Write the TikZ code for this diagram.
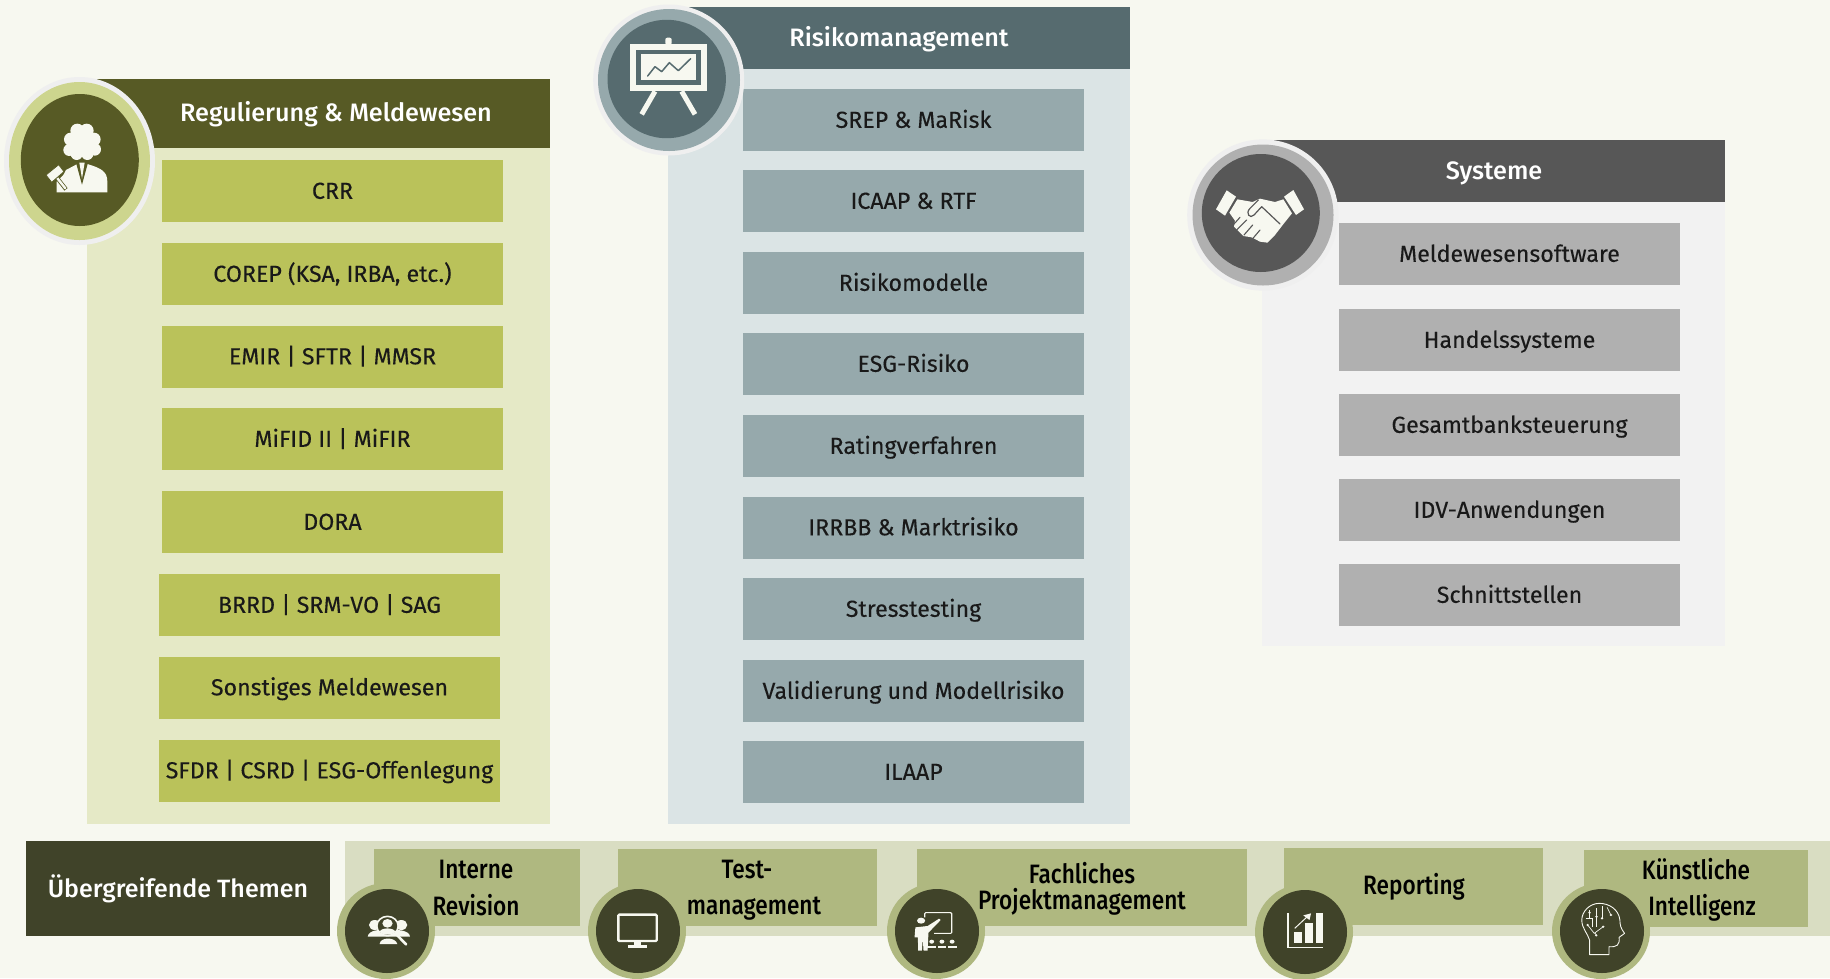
\documentclass[tikz,border=0pt]{standalone}
\usepackage{fontspec}
\setmainfont{Fira Sans}
\newfontfamily\itemfont[FakeBold=0.2]{Fira Sans}
\newfontfamily\headfont[UprightFont=* Medium]{Fira Sans}
\newfontfamily\sidefont[UprightFont=* Medium,FakeStretch=0.85]{Fira Sans}
\definecolor{pagebg}{HTML}{F7F8F0}
\definecolor{halo}{HTML}{EFEFEF}
\definecolor{regdark}{HTML}{575A25}
\definecolor{regmid}{HTML}{BAC25A}
\definecolor{regring}{HTML}{CDD58E}
\definecolor{reglight}{HTML}{E5E9C6}
\definecolor{riskdark}{HTML}{566B6F}
\definecolor{riskmid}{HTML}{96A9AC}
\definecolor{risklight}{HTML}{DBE4E5}
\definecolor{sysdark}{HTML}{575757}
\definecolor{sysmid}{HTML}{B0B0B0}
\definecolor{syslight}{HTML}{F2F2F2}
\definecolor{sidedark}{HTML}{404329}
\definecolor{sidemid}{HTML}{AFB880}
\definecolor{sidelight}{HTML}{D9DDC2}
\tikzset{
  itembox/.style={minimum width=341pt,minimum height=62pt,inner sep=0pt,text=black!90,
    font=\itemfont\fontsize{23.2}{26}\selectfont,text height=18.2pt,text depth=2.6pt},
  regbox/.style={itembox,fill=regmid},
  riskbox/.style={itembox,fill=riskmid},
  sysbox/.style={itembox,fill=sysmid},
  headtext/.style={inner sep=0pt,text=white,font=\headfont\fontsize{25.2}{30}\selectfont},
  sidebox/.style={fill=sidemid,inner sep=0pt,minimum height=77pt},
  sidetext/.style={inner sep=0pt,text=black,font=\sidefont\fontsize{26.6}{30}\selectfont},
  icon/.style={pagebg},
}
\begin{document}
\begin{tikzpicture}[x=1pt,y=-1pt]
  \clip (0,0) rectangle (1830,978);
  \fill[pagebg] (0,0) rectangle (1830,978);  %Page

  % Regulierung & Meldewesen
  \fill[reglight] (87,148) rectangle (550,824);  %Panel
  \fill[regdark] (87,79) rectangle (550,148);    %Header
  \node[headtext] (reghead) at (336,114) {Regulierung \& Meldewesen};
  \node[regbox] (crr)   at (332.5,191) {CRR};
  \node[regbox] (corep) at (332.5,274) {COREP (KSA, IRBA, etc.)};
  \node[regbox] (emir)  at (332.5,356.5) {EMIR | SFTR | MMSR};
  \node[regbox] (mifid) at (332.5,439) {MiFID II | MiFIR};
  \node[regbox] (dora)  at (332.5,522) {DORA};
  \node[regbox] (brrd)  at (329.5,605) {BRRD | SRM-VO | SAG};
  \node[regbox] (sonst) at (329.5,687.5) {Sonstiges Meldewesen};
  \node[regbox] (sfdr)  at (329.5,770.5) {SFDR | CSRD | ESG-Offenlegung};
  \fill[halo] (79.5,161) ellipse (75.5 and 84);
  \fill[regring] (79.5,161) ellipse (70.5 and 79);
  \fill[regdark] (79.8,160) ellipse (59 and 66);

  % Judge icon
  \begin{scope}[shift={(0,60)},scale=1/3]
    \fill[icon] (245,248) ellipse (42 and 40);
    \fill[icon] (232,212) circle (21);
    \fill[icon] (260,212) circle (21);
    \fill[icon] (282,238) circle (20);
    \fill[icon] (284,268) circle (19);
    \fill[icon] (262,282) circle (18);
    \fill[icon] (230,282) circle (18);
    \fill[icon] (208,270) circle (18);
    \fill[icon] (212,238) circle (20);
    \fill[icon] (170,397) -- (170,365) -- (190,345) -- (198,330) -- (232,312) -- (262,312) .. controls (305,325) and (322,335) .. (322,365) -- (322,397) -- cycle;
    \fill[regdark] (228,308) -- (264,308) -- (246,374) -- cycle;     %Lapels
    \fill[icon] (238,308) -- (254,308) -- (246,356) -- cycle;        %Tie
    \draw[regdark,line width=4pt] (162,342) -- (198,388);            %Handle
    \draw[icon,line width=2.4pt,line cap=round] (162,342) -- (196,385);
    \draw[regdark,line width=.8pt,fill=pagebg] (138,345) -- (176,314) -- (192,335) -- (155,367) -- cycle;
  \end{scope}

  % Risikomanagement
  \fill[risklight] (668,69) rectangle (1130,824);  %Panel
  \fill[riskdark] (668,7) rectangle (1130,69);     %Header
  \node[headtext] (riskhead) at (899,39.5) {Risikomanagement};
  \node[riskbox] (srep)   at (913.5,120) {SREP \& MaRisk};
  \node[riskbox] (icaap)  at (913.5,201) {ICAAP \& RTF};
  \node[riskbox] (modell) at (913.5,283) {Risikomodelle};
  \node[riskbox] (esg)    at (913.5,364) {ESG-Risiko};
  \node[riskbox] (rating) at (913.5,446) {Ratingverfahren};
  \node[riskbox] (irrbb)  at (913.5,527.5) {IRRBB \& Marktrisiko};
  \node[riskbox] (stress) at (913.5,609) {Stresstesting};
  \node[riskbox] (valid)  at (913.5,691) {Validierung und Modellrisiko};
  \node[riskbox] (ilaap)  at (913.5,772) {ILAAP};
  \fill[halo] (668.7,80) circle (75.5);
  \fill[riskmid] (669,80) circle (71);
  \fill[riskdark] (666.7,79) circle (59.2);

  % Easel icon
  \begin{scope}[shift={(580,0)},scale=1/3]
    \fill[icon] (150,132) rectangle (381,274);
    \fill[riskdark] (168,150) rectangle (363,256);
    \fill[icon] (182,163) rectangle (348,240);
    \fill[icon,rounded corners=2pt] (256,135) -- (256,113) -- (275,113) -- (275,135) -- cycle;
    \draw[riskdark,line width=1.5pt,line cap=round,line join=round] (203,228) -- (225,200) -- (245,215) -- (268,188) -- (295,212) -- (332,176);
    \draw[icon,line width=5pt] (225,274) -- (185,343);
    \draw[icon,line width=5pt] (305,274) -- (345,343);
  \end{scope}

  % Systeme
  \fill[syslight] (1262,202) rectangle (1725,645.5);  %Panel
  \fill[sysdark] (1262,140) rectangle (1725,202);     %Header
  \node[headtext] (syshead) at (1494,173) {Systeme};
  \node[sysbox] (melde)  at (1509.5,254) {Meldewesensoftware};
  \node[sysbox] (handel) at (1509.5,340) {Handelssysteme};
  \node[sysbox] (gesamt) at (1509.5,425) {Gesamtbanksteuerung};
  \node[sysbox] (idv)    at (1509.5,510) {IDV-Anwendungen};
  \node[sysbox] (schnitt) at (1509.5,595) {Schnittstellen};
  \fill[halo] (1262.8,215) circle (75.6);
  \fill[sysmid] (1263,215) circle (70.5);
  \fill[sysdark] (1260.8,213) circle (59);

  % Handshake icon
  \begin{scope}[shift={(1180,130)},scale=1/3]
    \fill[icon] (108,238) -- (140,181) -- (168,200) -- (135,257) -- cycle;   %Left cuff
    \fill[icon] (312,200) -- (340,180) -- (372,238) -- (348,255) -- cycle;   %Right cuff
    \fill[icon] (148,248) -- (172,208) -- (218,216) -- (240,206) -- (285,216) -- (310,208) -- (336,250) -- (308,285) -- (285,315) -- (262,338) -- (240,335) -- (215,322) -- (190,318) -- (162,290) -- (165,272) -- cycle;
    \draw[sysdark,line width=1.2pt,line join=round,line cap=round] (300,282) -- (245,230) -- (222,255) .. controls (210,268) and (195,250) .. (210,235) -- (235,210);
    \draw[sysdark,line width=1.1pt,line cap=round] (180,262) -- (162,282);
    \draw[sysdark,line width=1.1pt,line cap=round] (200,270) -- (170,300);
    \draw[sysdark,line width=1.1pt,line cap=round] (218,285) -- (192,315);
    \draw[sysdark,line width=1.1pt,line cap=round] (240,300) -- (218,326);
  \end{scope}

  % Uebergreifende Themen
  \node[fill=sidedark,inner sep=0pt,minimum width=304pt,minimum height=95pt,text=white,font=\headfont\fontsize{25}{30}\selectfont] (themen) at (178,888.5) {Übergreifende Themen};
  \fill[sidelight] (345,841) rectangle (1830,936);  %Band

  \node[sidebox,minimum width=206pt] (revbox) at (477,887.5) {};
  \node[sidebox,minimum width=259pt] (testbox) at (747.5,887.5) {};
  \node[sidebox,minimum width=330pt] (projbox) at (1082,887.5) {};
  \node[sidebox,minimum width=259pt] (repbox) at (1413.5,886.5) {};
  \node[sidebox,minimum width=224pt] (kibox) at (1696,888.5) {};

  \node[sidetext] (interne) at (476,869) {Interne};
  \node[sidetext] (revision) at (476,905) {Revision};
  \node[sidetext] (test) at (747,869) {Test-};
  \node[sidetext] (management) at (754,909) {management};
  \node[sidetext] (fachlich) at (1082,873) {Fachliches};
  \node[sidetext] (projekt) at (1082,902) {Projektmanagement};
  \node[sidetext] (reporting) at (1414,887) {Reporting};
  \node[sidetext] (kuenstlich) at (1696,869.5) {Künstliche};
  \node[sidetext] (intelligenz) at (1702,908) {Intelligenz};

  \fill[sidemid] (386,931) ellipse (49 and 48);
  \fill[sidedark] (387,931) circle (42);
  \fill[sidemid] (637,931) ellipse (49 and 48);
  \fill[sidedark] (638,931) circle (42);
  \fill[sidemid] (936,931) ellipse (49 and 48);
  \fill[sidedark] (937,931) circle (42);
  \fill[sidemid] (1304,932) ellipse (49 and 48);
  \fill[sidedark] (1305,932) circle (42);
  \fill[sidemid] (1601,931) ellipse (49 and 48);
  \fill[sidedark] (1602,931) circle (42);

  % Search icon
  \begin{scope}[shift={(0,830)},xscale=0.3954,yscale=1/3]
    \fill[icon] (948,285) circle (15);
    \fill[icon] (1015,285) circle (15);
    \fill[icon] (930,320) .. controls (932,300) and (960,298) .. (980,300) .. controls (1005,298) and (1035,300) .. (1037,320) -- cycle;
    \fill[icon] (960,342) .. controls (962,320) and (1000,320) .. (1005,342) -- cycle;
    \draw[icon,line width=1.6pt,fill=sidedark] (980,288) ellipse (27 and 29);
    \fill[icon] (980,280) circle (13);
    \fill[icon] (960,305) .. controls (965,292) and (995,292) .. (1000,305) -- (990,314) -- (970,314) -- cycle;
    \draw[icon,line width=2.6pt,line cap=round] (1003,314) -- (1027,343);
  \end{scope}

  % Monitor icon
  \begin{scope}[shift={(580,830)},xscale=0.408,yscale=1/3]
    \draw[icon,line width=2.4pt,rounded corners=1pt] (94,254) rectangle (188,333);
    \fill[icon] (133,333) rectangle (150,346);
    \fill[icon] (118,345) rectangle (165,355);
  \end{scope}

  % Teacher icon
  \begin{scope}[shift={(580,830)},xscale=0.408,yscale=1/3]
    \draw[icon,line width=1.1pt,rounded corners=1pt] (845,262) -- (845,248) -- (911,248) -- (911,310) -- (868,310);
    \fill[icon] (836,272) ellipse (10 and 9);
    \fill[icon] (820,322) -- (822,292) -- (852,288) -- (880,266) -- (884,270) -- (854,308) -- (852,362) -- (842,362) -- (840,325) -- (838,362) -- (829,362) -- (828,322) -- cycle;
    \fill[icon] (862,335) circle (6);
    \fill[icon] (887,335) circle (6);
    \fill[icon] (912,335) circle (6);
    \fill[icon] (852,355) -- (852,348) -- (872,348) -- (872,355) -- cycle;
    \fill[icon] (877,355) -- (877,348) -- (897,348) -- (897,355) -- cycle;
    \fill[icon] (902,355) -- (902,348) -- (923,348) -- (923,355) -- cycle;
  \end{scope}

  % Chart icon
  \begin{scope}[shift={(1220,830)},xscale=0.389,yscale=1/3]
    \draw[icon,line width=1.2pt] (175,250) -- (175,352) -- (264,352);
    \fill[icon] (190,305) rectangle (212,340);
    \fill[icon] (218,278) rectangle (240,340);
    \fill[icon] (246,250) rectangle (264,340);
    \draw[icon,line width=1pt] (192,295) -- (228,256);
    \fill[icon] (234,250) -- (214,256) -- (230,270) -- cycle;
  \end{scope}

  % Brain icon
  \begin{scope}[shift={(1220,830)},xscale=0.389,yscale=1/3]
    \draw[icon,line width=.9pt,line join=round] (950,374) -- (1000,374) -- (1000,350) .. controls (1020,352) and (1028,345) .. (1026,322) -- (1040,310) .. controls (1030,295) and (1028,285) .. (1028,270) .. controls (1025,238) and (1000,220) .. (975,220) .. controls (950,220) and (930,245) .. (930,270) .. controls (930,295) and (945,310) .. (950,330) -- cycle;
    \draw[icon,line width=.7pt] (945,285) -- (962,310) -- (985,290);
    \draw[icon,line width=.7pt] (965,310) -- (967,316);
    \draw[icon,line width=.7pt] (982,265) -- (982,228);
    \draw[icon,line width=.7pt] (940,265) -- (958,265) -- (958,290);
    \draw[icon,line width=.7pt] (950,240) -- (950,265);
    \draw[icon,line width=.7pt] (968,235) -- (968,290);
    \draw[icon,line width=.7pt] (995,232) -- (1005,255);
    \fill[icon] (945,285) circle (3.5);
    \fill[icon] (967,316) circle (3.5);
    \fill[icon] (985,290) circle (3.5);
    \fill[icon] (982,265) circle (3.5);
    \fill[icon] (950,248) circle (3.5);
    \fill[icon] (968,260) circle (3.5);
    \fill[icon] (1005,255) circle (3.5);
  \end{scope}
\end{tikzpicture}
\end{document}
